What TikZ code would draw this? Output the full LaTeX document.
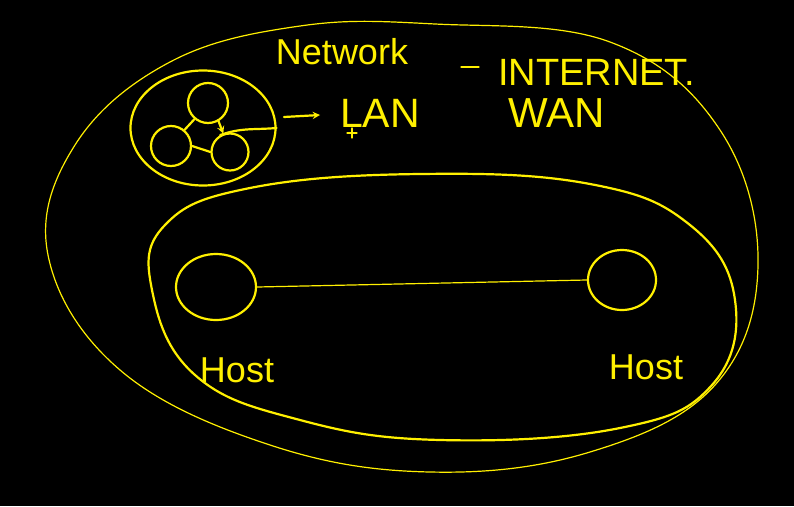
\documentclass[tikz,border=0pt]{standalone}
\usepackage{fontspec}
\setmainfont{Liberation Sans}
\usetikzlibrary{shapes.geometric}
\definecolor{pen}{RGB}{255,240,0}
\begin{document}
\begin{tikzpicture}[x=1pt,y=-1pt, line join=round, line cap=round, >=stealth,
	thin pen/.style={draw=pen, line width=1.2pt},
	thick pen/.style={draw=pen, line width=2.2pt},
	ring/.style={thick pen, circle, inner sep=0pt, minimum size=#1},
	hand/.style={text=pen, inner sep=0pt, font=\fontsize{#1}{#1}\selectfont}]
	\fill[black] (0,0) rectangle (794,506);
	\useasboundingbox (0,0) rectangle (794,506);
	\draw[thin pen] plot[smooth cycle, tension=.65] coordinates{(435,24) (610,42) (720,130) (758,265) (715,385) (590,452) (430,472) (270,445) (120,370) (48,255) (75,145) (170,62) (300,26)};
	\draw[thick pen] plot[smooth cycle, tension=.7] coordinates{(420,174) (590,184) (690,225) (735,300) (712,385) (620,428) (440,440) (300,420) (195,375) (152,290) (165,225) (250,188)};
	\node[thick pen, ellipse, minimum width=145pt, minimum height=115pt, inner sep=0pt] (lan) at (203,128) {};
	\node[ring=40pt] (top) at (208,103) {};
	\node[ring=40pt] (left) at (171,146) {};
	\node[ring=37pt] (right) at (230,152) {};
	\draw[thick pen] (top.230)--(left.50) (left.east)--(right.west);
	\draw[thick pen,->] (top.300)--(right.110);
	\draw[thick pen] (right.120) to[out=20,in=185] (lan.east);
	\coordinate (arr) at (284,117);
	\draw[thick pen,->] (arr)--++(36,-2);
	\node[hand=36] (network) at (342,52) {Network};
	\draw[thin pen] (461,67)--(479,67);
	\node[hand=38,anchor=west] (internet) at (498,72) {INTERNET.};
	\node[hand=41] (lantext) at (380,113) {LAN};
	\node[hand=42] (wan) at (557,113) {WAN};
	\draw[thin pen] (347,133)--(357,133) (352,128)--(352,138);
	\node[thick pen, ellipse, minimum width=80pt, minimum height=66pt, inner sep=0pt] (hostA) at (216,287) {};
	\node[thick pen, ellipse, minimum width=68pt, minimum height=60pt, inner sep=0pt] (hostB) at (622,280) {};
	\draw[thin pen] (hostA.east)--(hostB.west);
	\node[hand=36] (hostAtext) at (237,370) {Host};
	\node[hand=36] (hostBtext) at (646,367) {Host};
\end{tikzpicture}
\end{document}
